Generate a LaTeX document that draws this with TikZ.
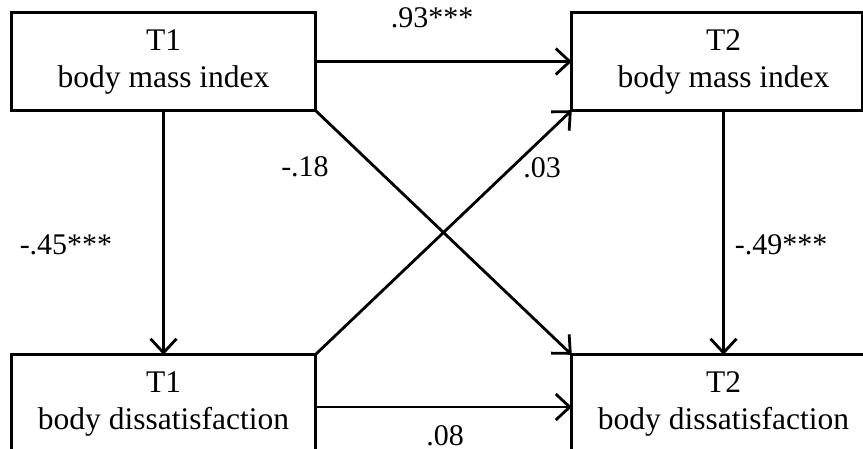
\documentclass[tikz,border=0pt]{standalone}
\usepackage{fontspec}
\setmainfont{Liberation Serif}
\usetikzlibrary{arrows.meta}
\begin{document}
\begin{tikzpicture}[x=1pt,y=-1pt,
  box/.style={minimum width=303pt, minimum height=97pt, inner sep=0pt, align=center, font=\fontsize{31.5}{37}\selectfont},
  boxline/.style={line width=2.8pt},
  lbl/.style={font=\fontsize{30}{36}\selectfont, inner sep=0pt},
  arr/.style={line width=2.8pt, -{Straight Barb[length=14pt,width=26pt]}}]
\clip (0,0) rectangle (863,448);
\fill[white] (0,0) rectangle (863,448);
\node[box] (TL) at (163.5,61.5) {T1\\body mass index};
\node[box] (TR) at (723.5,61.5) {T2\\body mass index};
\node[box] (BL) at (163.5,403.5) {T1\\body dissatisfaction};
\node[box] (BR) at (723.5,403.5) {T2\\body dissatisfaction};
\draw[boxline] (TL.south west) rectangle (TL.north east);
\draw[boxline] (TR.south west) rectangle ([xshift=-13pt]TR.north east);
\draw[boxline] (BL.south west) rectangle (BL.north east);
\draw[boxline] (BR.south west) rectangle (BR.north east);
\draw[arr] (TL.east) -- (TR.west);
\draw[arr] (BL.east |- 0,407) coordinate (b1) -- (b1 -| BR.west);
\draw[arr] (TL.south) -- (BL.north);
\draw[arr] (BR.north |- TR.south) -- (BR.north);
\draw[arr] (TL.south east) -- (BR.north west);
\draw[arr] (BL.north east) -- (TR.south west);
\node[lbl] (l93) at (432,18) {.93***};
\node[lbl] (l18) at (305,167) {-.18};
\node[lbl] (l03) at (542,168) {.03};
\node[lbl] (l45) at (66,245) {-.45***};
\node[lbl] (l49) at (781,245) {-.49***};
\node[lbl] (l08) at (445,436) {.08};
\end{tikzpicture}
\end{document}
